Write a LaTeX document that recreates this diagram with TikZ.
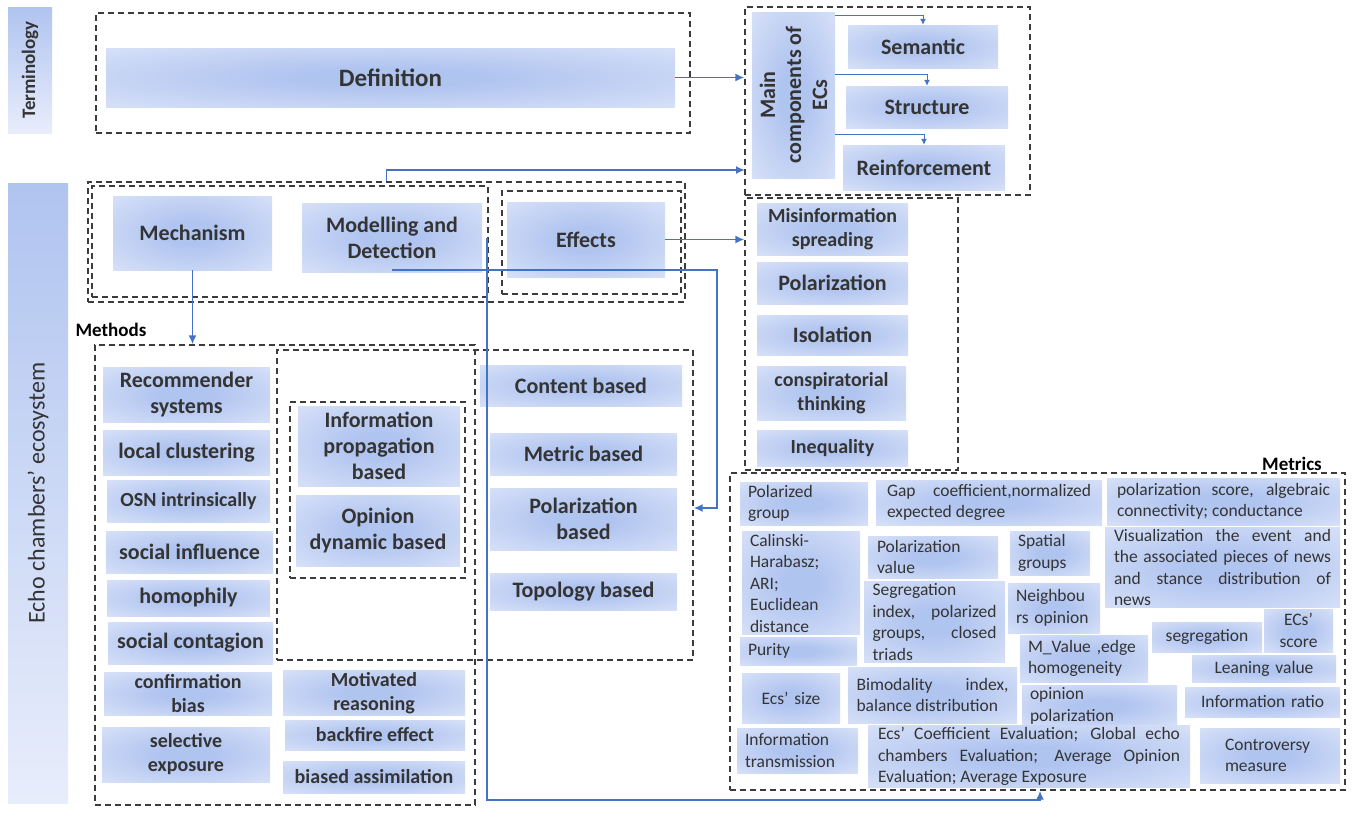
\documentclass[tikz,border=0pt]{standalone}
\usepackage{fontspec}
\setmainfont{Carlito}
\usepackage{xcolor}
\usepackage{tikz}
\usetikzlibrary{arrows.meta}
\definecolor{ecin}{RGB}{176,196,240}
\definecolor{ecout}{RGB}{232,237,251}
\definecolor{ectext}{RGB}{52,52,52}
\definecolor{ecframe}{RGB}{60,60,60}
\definecolor{ecarrow}{RGB}{68,114,196}
\pgfdeclareradialshading{ecglow}{\pgfpoint{0bp}{0bp}}{color(0bp)=(ecin); color(8bp)=(ecin); color(48bp)=(ecout); color(72bp)=(ecout)}
\tikzset{
  px/.style={x=1pt, y=-1pt},
  e box/.style={shading=ecglow, align=center, inner sep=2pt, text=ectext, font=\fontsize{22}{26}\selectfont\bfseries},
  e big/.style={font=\fontsize{25}{30}\selectfont\bfseries},
  e sm/.style={font=\fontsize{20}{24}\selectfont\bfseries},
  e met/.style={shading=ecglow, align=justify, inner xsep=8pt, inner ysep=2pt, text=ectext, font=\fontsize{17.5}{21.5}\selectfont},
  e side/.style={rotate=90, top color=ecin, bottom color=ecout, text=ectext, inner sep=2pt},
  e frame/.style={draw=ecframe, dash pattern=on 6pt off 4pt, line width=1.3pt, inner sep=0pt},
  e title/.style={font=\fontsize{19}{23}\selectfont\bfseries, text=black, inner sep=0pt},
  e arr/.style={-{Latex[length=9pt,width=8pt]}, draw=ecarrow, line width=1.8pt},
  e sarr/.style={-{Latex[length=6pt,width=6pt]}, draw=ecarrow, line width=1pt},
}
\begin{document}
\begin{tikzpicture}[px]
\useasboundingbox (0,0) rectangle (1352,817);
\node[e side, minimum width=126, minimum height=44, font=\fontsize{19}{23}\selectfont\bfseries] (term) at (30,70) {Terminology};
\node[e side, minimum width=620, minimum height=60, font=\fontsize{24}{28}\selectfont] (eco) at (38,493) {Echo chambers’ ecosystem};

\node[e box, e big, minimum width=569, minimum height=59] (def) at (390.5,77.5) {Definition};
\node[e box, rotate=90, minimum width=166, minimum height=83] (comp) at (793.5,95) {Main\\components of\\ECs};
\node[e box, minimum width=150, minimum height=43] (sem) at (923,46.5) {Semantic};
\node[e box, minimum width=162, minimum height=42] (struc) at (927,107) {Structure};
\node[e box, minimum width=162, minimum height=45] (reinf) at (924,167.5) {Reinforcement};

\node[e box, minimum width=159, minimum height=74] (mech) at (192.5,233) {Mechanism};
\node[e box, minimum width=180, minimum height=69] (model) at (392,237.5) {Modelling and\\Detection};
\node[e box, minimum width=158, minimum height=75] (eff) at (586,239.5) {Effects};

\node[e box, e sm, minimum width=151, minimum height=52] (misinfo) at (832.5,229) {Misinformation\\spreading};
\node[e box, minimum width=151, minimum height=42] (polar) at (832.5,283) {Polarization};
\node[e box, minimum width=151, minimum height=40] (isol) at (832.5,335) {Isolation};
\node[e box, e sm, minimum width=149, minimum height=54] (consp) at (831.5,393) {conspiratorial\\thinking};
\node[e box, e sm, minimum width=151, minimum height=36] (ineq) at (832.5,448) {Inequality};

\node[e box, minimum width=167, minimum height=55] (recsys) at (186.5,394.5) {Recommender\\systems};
\node[e box, minimum width=167, minimum height=45] (locclu) at (186.5,452.5) {local clustering};
\node[e box, e sm, minimum width=163, minimum height=42] (osn) at (188.5,501) {OSN intrinsically};
\node[e box, minimum width=167, minimum height=42] (socinf) at (189.5,552) {social influence};
\node[e box, minimum width=163, minimum height=36] (homo) at (188.5,598) {homophily};
\node[e box, minimum width=165, minimum height=42] (soccon) at (190.5,643) {social contagion};
\node[e box, e sm, minimum width=168, minimum height=42] (confb) at (188,694) {confirmation\\bias};
\node[e box, e sm, minimum width=168, minimum height=55] (selexp) at (186,754.5) {selective\\exposure};
\node[e box, e sm, minimum width=182, minimum height=42] (motiv) at (374,693) {Motivated\\reasoning};
\node[e box, e sm, minimum width=180, minimum height=30] (backf) at (375,735) {backfire effect};
\node[e box, e sm, minimum width=182, minimum height=32] (biased) at (374,777) {biased assimilation};
\node[e box, minimum width=162, minimum height=80] (infprop) at (379,446) {Information\\propagation\\based};
\node[e box, minimum width=164, minimum height=71] (opdyn) at (378,530.5) {Opinion\\dynamic based};

\node[e box, minimum width=202, minimum height=41] (content) at (581,385.5) {Content based};
\node[e box, minimum width=187, minimum height=42] (metric) at (583.5,454) {Metric based};
\node[e box, minimum width=187, minimum height=62] (polbased) at (583.5,519) {Polarization\\based};
\node[e box, minimum width=187, minimum height=37] (topo) at (583.5,591.5) {Topology based};

\node[e met, align=left, minimum width=128, text width=112, minimum height=43] (mPgrp) at (804,503.5) {Polarized\\group};
\node[e met, minimum width=226, text width=204, minimum height=45] (mGap) at (989,502.5) {Gap coefficient,normalized\linebreak expected degree};
\node[e met, minimum width=233, text width=213, minimum height=47] (mScore) at (1223.5,501.5) {polarization score, algebraic\linebreak connectivity; conductance};
\node[e met, align=left, minimum width=118, text width=102, minimum height=100] (mCal) at (801,583) {Calinski-\\Harabasz;\\ARI;\\Euclidean\\distance};
\node[e met, align=left, minimum width=130, text width=112, minimum height=42] (mPval) at (933,557) {Polarization\\value};
\node[e met, align=left, minimum width=80, text width=64, minimum height=44] (mSpat) at (1050,553) {Spatial\\groups};
\node[e met, minimum width=235, text width=217, minimum height=75] (mVis) at (1222.5,567.5) {Visualization the event and\linebreak the associated pieces of news\linebreak and stance distribution of\linebreak news};
\node[e met, minimum width=141, text width=124, minimum height=76] (mSeg) at (934.5,622) {Segregation\\ index, polarized\linebreak groups, closed\linebreak triads};
\node[e met, align=left, minimum width=92, text width=76, minimum height=50] (mNbr) at (1054,608) {Neighbou\\rs opinion};
\node[e met, align=left, minimum width=117, text width=101, minimum height=28] (mPur) at (798.5,651) {Purity};
\node[e met, align=center, minimum width=110, text width=94, minimum height=30] (mSegr) at (1207,637) {segregation};
\node[e met, align=center, minimum width=69, text width=53, minimum height=43] (mEcs) at (1298.5,630.5) {ECs’\\score};
\node[e met, align=left, minimum width=128, text width=112, minimum height=47] (mMval) at (1084,658.5) {M\_Value ,edge\\homogeneity};
\node[e met, align=center, minimum width=144, text width=128, minimum height=27] (mLean) at (1264,668.5) {Leaning value};
\node[e met, align=center, minimum width=98, text width=82, minimum height=50] (mSize) at (791,698) {Ecs’ size};
\node[e met, minimum width=169, text width=152, minimum height=56] (mBim) at (932.5,695) {Bimodality index,\linebreak balance distribution};
\node[e met, align=left, minimum width=155, text width=139, minimum height=38] (mOpin) at (1099.5,706) {opinion\\polarization};
\node[e met, align=center, minimum width=155, text width=139, minimum height=30] (mIratio) at (1262.5,702) {Information ratio};
\node[e met, align=left, minimum width=121, text width=105, minimum height=45] (mItrans) at (797.5,750.5) {Information\\transmission};
\node[e met, minimum width=322, text width=302, minimum height=57] (mCoef) at (1029,756.5) {Ecs’ Coefficient Evaluation; Global echo\linebreak chambers Evaluation; Average Opinion\linebreak Evaluation; Average Exposure};
\node[e met, align=left, minimum width=140, text width=90, minimum height=55] (mContr) at (1270,755.5) {Controversy\\measure};

\node[e frame, minimum width=594, minimum height=120] (defF) at (393,73) {};
\node[e frame, minimum width=285, minimum height=188] (compF) at (887.5,101) {};
\node[e frame, minimum width=597, minimum height=120] (topF) at (386.5,242) {};
\node[e frame, minimum width=396, minimum height=111] (mmF) at (290,241.5) {};
\node[e frame, minimum width=179, minimum height=103] (effF) at (591.5,242.5) {};
\node[e frame, minimum width=380, minimum height=460] (methF) at (285,575) {};
\node[e frame, minimum width=416, minimum height=310] (detF) at (485,505) {};
\node[e frame, minimum width=175, minimum height=176] (dynF) at (377.5,490) {};
\node[e frame, minimum width=213, minimum height=272] (effL) at (851.5,334) {};
\node[e frame, minimum width=615, minimum height=317] (metF) at (1037.5,631.5) {};
\node[e title] (methT) at (111,330) {Methods};
\node[e title, anchor=base] (metT) at (1292,470) {Metrics};

\coordinate (jComp) at (745,170);
\coordinate (jDet) at (717,508);
\coordinate (jMet) at (1040,800);
\draw[e arr] (def.east) -- (def.east -| compF.west);
\draw[e arr] (topF.north) |- (jComp);
\draw[e sarr] ([yshift=80pt]comp.south) -| (sem.north); \draw[e sarr] ([yshift=21pt]comp.south) -| (struc.north); \draw[e sarr] ([yshift=-39pt]comp.south) -| (reinf.north);
\draw[e arr] (mech.south) -- (mech.south |- methF.north);
\draw[e arr] (eff.east) -- (eff.east -| effL.west);
\draw[e arr] ([yshift=2pt]model.south) -| (jDet) -- (jDet -| detF.east);
\draw[e arr] ([xshift=5pt]model.east) |- (jMet) -- (jMet |- metF.south);
\end{tikzpicture}
\end{document}
